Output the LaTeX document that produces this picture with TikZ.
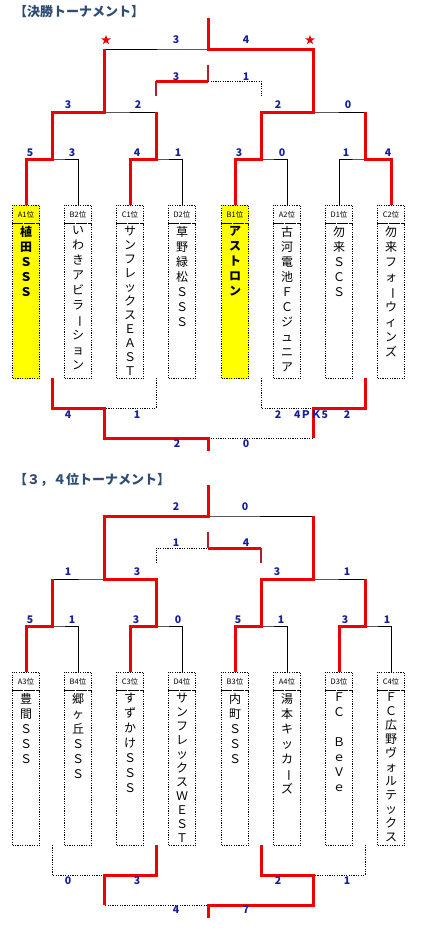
\documentclass[tikz,border=0pt]{standalone}
\usepackage{fontspec}
\setmainfont{Noto Sans CJK JP}
\usetikzlibrary{positioning,shapes.geometric}
\definecolor{myred}{HTML}{EE0000}
\definecolor{mydarkred}{HTML}{B0202C}
\definecolor{myblue}{HTML}{14209C}
\definecolor{mytitle}{HTML}{2F4D74}
\definecolor{myyellow}{HTML}{FFFF00}
\newcommand{\tate}[2][15pt]{\parbox[t][150pt][t]{24pt}{\centering\fontsize{12}{#1}\selectfont #2}}
\newcommand{\chon}{\rotatebox[origin=c]{-90}{ー}}
\tikzset{
  posbox/.style={draw, dash pattern=on 1.2pt off 1.2pt, minimum width=27pt, minimum height=18pt,
                 inner sep=0pt, anchor=north, font=\fontsize{7.5}{8}\selectfont},
  namebox/.style={draw, dash pattern=on 1.2pt off 1.2pt, minimum width=27pt, minimum height=155pt,
                  inner sep=0pt, anchor=north},
  winbox/.style={fill=myyellow},
  thinline/.style={line width=1pt},
  dotline/.style={line width=1pt, dash pattern=on 1.2pt off 1.2pt},
  redline/.style={line width=3pt, myred},
  dredline/.style={line width=2.4pt, mydarkred},
  score/.style={font=\fontsize{10.5}{11}\selectfont\bfseries, text=myblue, inner sep=0pt},
  heading/.style={font=\fontsize{13}{14}\selectfont\bfseries, text=mytitle, anchor=west, inner sep=0pt},
  winstar/.style={star, star points=5, star point ratio=2.4, fill=myred, inner sep=0pt, minimum size=10pt},
}

\begin{document}
\begin{tikzpicture}[x=1pt, y=-1pt]
    \useasboundingbox (0,0) rectangle (430,935);

    % 決勝トーナメント
    \node[heading] (ftitle) at (14,12) {【決勝トーナメント】};

    \node[posbox, winbox] (f1) at (26,205) {A1位};
    \node[namebox, winbox, below=0pt of f1] (f1n) {\tate{\bfseries 植\\田\\Ｓ\\Ｓ\\Ｓ}};
    \node[posbox] (f2) at (78,205) {B2位};
    \node[namebox, below=0pt of f2] (f2n) {\tate{い\\わ\\き\\ア\\ビ\\ラ\\\chon\\シ\\ョ\\ン}};
    \node[posbox] (f3) at (130,205) {C1位};
    \node[namebox, below=0pt of f3] (f3n) {\tate[14pt]{サ\\ン\\フ\\レ\\ッ\\ク\\ス\\Ｅ\\Ａ\\Ｓ\\Ｔ}};
    \node[posbox] (f4) at (182,205) {D2位};
    \node[namebox, below=0pt of f4] (f4n) {\tate{草\\野\\緑\\松\\Ｓ\\Ｓ\\Ｓ}};
    \node[posbox, winbox] (f5) at (235,205) {B1位};
    \node[namebox, winbox, below=0pt of f5] (f5n) {\tate{\bfseries ア\\ス\\ト\\ロ\\ン}};
    \node[posbox] (f6) at (287,205) {A2位};
    \node[namebox, below=0pt of f6] (f6n) {\tate{古\\河\\電\\池\\Ｆ\\Ｃ\\ジ\\ュ\\ニ\\ア}};
    \node[posbox] (f7) at (339,205) {D1位};
    \node[namebox, below=0pt of f7] (f7n) {\tate{勿\\来\\Ｓ\\Ｃ\\Ｓ}};
    \node[posbox] (f8) at (391,205) {C2位};
    \node[namebox, below=0pt of f8] (f8n) {\tate{勿\\来\\フ\\ォ\\\chon\\ウ\\ィ\\ン\\ズ}};

    \coordinate (fj1) at (52,159);
    \coordinate (fj2) at (156,159);
    \coordinate (fj3) at (261,159);
    \coordinate (fj4) at (365,159);
    \coordinate (fk1) at (104,112);
    \coordinate (fk2) at (313,112);
    \coordinate (fm) at (208,49);
    \coordinate (ftop) at (208,18);

    \draw[thinline] (f1.north) |- (fj1) -| (f2.north);
    \draw[thinline] (f3.north) |- (fj2) -| (f4.north);
    \draw[thinline] (f5.north) |- (fj3) -| (f6.north);
    \draw[thinline] (f7.north) |- (fj4) -| (f8.north);
    \draw[thinline] (fj1) |- (fk1) -| (fj2);
    \draw[thinline] (fj3) |- (fk2) -| (fj4);
    \draw[thinline] (fk1) |- (fm) -| (fk2);
    \draw[redline] (f1.north) |- (fj1) |- (fk1) -- (fk1 |- fm);
    \draw[redline] (f3.north) |- (fj2) -- (fj2 |- fk1);
    \draw[redline] (f5.north) |- (fj3) |- (fk2) |- (fm) -- (ftop);
    \draw[redline] (f8.north) |- (fj4) -- (fj4 |- fk2);
    \node[winstar] (fstar1) at (106,40) {};
    \node[winstar] (fstar2) at (310,40) {};

    \coordinate (fmc) at (208,81);
    \coordinate (fmt) at (208,65);
    \coordinate (fml) at (156,96);
    \coordinate (fmr) at (261,96);
    \draw[dotline] (fml) |- (fmc) -| (fmr);
    \draw[redline] (fml |- fmc) -- (fmc);
    \draw[dredline] (fml) -- (fml |- fmc);
    \draw[dredline] (fmt) -- (fmc);

    \coordinate (fb1) at (52,378);
    \coordinate (fb2) at (156,378);
    \coordinate (fb3) at (261,378);
    \coordinate (fb4) at (365,378);
    \coordinate (fp1) at (104,408);
    \coordinate (fp2) at (313,408);
    \coordinate (fq) at (208,438);
    \coordinate (fqe) at (208,451);
    \draw[dotline] (fb1) |- (fp1) -| (fb2);
    \draw[dotline] (fb3) |- (fp2) -| (fb4);
    \draw[dotline] (fp1) |- (fq) -| (fp2);
    \draw[redline] (fb1) |- (fp1) |- (fq) -- (fqe);
    \draw[redline] (fb4) |- (fp2) -- (fp2 |- fq);

    \node[score] (fs1) at (30,153) {5};
    \node[score] (fs2) at (72,153) {3};
    \node[score] (fs3) at (137,153) {4};
    \node[score] (fs4) at (178,153) {1};
    \node[score] (fs5) at (239,153) {3};
    \node[score] (fs6) at (282,153) {0};
    \node[score] (fs7) at (346,153) {1};
    \node[score] (fs8) at (388,153) {4};
    \node[score] (fs9) at (68,105) {3};
    \node[score] (fs10) at (138,105) {2};
    \node[score] (fs11) at (278,105) {2};
    \node[score] (fs12) at (348,105) {0};
    \node[score] (fs13) at (176,40) {3};
    \node[score] (fs14) at (246,40) {4};
    \node[score] (fs15) at (176,77) {3};
    \node[score] (fs16) at (246,77) {1};
    \node[score] (fs17) at (68,415) {4};
    \node[score] (fs18) at (137,415) {1};
    \node[score] (fs19) at (278,415) {2};
    \node[score] (fs20) at (311,415) {4ＰＫ5};
    \node[score] (fs21) at (347,415) {2};
    \node[score] (fs22) at (177,444) {2};
    \node[score] (fs23) at (246,444) {0};

    % 3,4位トーナメント
    \begin{scope}[shift={(0,467)}]
    \node[heading] (stitle) at (14,13) {【３，４位トーナメント】};

    \node[posbox] (s1) at (26,205) {A3位};
    \node[namebox, below=0pt of s1] (s1n) {\tate{豊\\間\\Ｓ\\Ｓ\\Ｓ}};
    \node[posbox] (s2) at (78,205) {B4位};
    \node[namebox, below=0pt of s2] (s2n) {\tate{郷\\ヶ\\丘\\Ｓ\\Ｓ\\Ｓ}};
    \node[posbox] (s3) at (130,205) {C3位};
    \node[namebox, below=0pt of s3] (s3n) {\tate{す\\ず\\か\\け\\Ｓ\\Ｓ\\Ｓ}};
    \node[posbox] (s4) at (182,205) {D4位};
    \node[namebox, below=0pt of s4] (s4n) {\tate[14pt]{サ\\ン\\フ\\レ\\ッ\\ク\\ス\\Ｗ\\Ｅ\\Ｓ\\Ｔ}};
    \node[posbox] (s5) at (235,205) {B3位};
    \node[namebox, below=0pt of s5] (s5n) {\tate{内\\町\\Ｓ\\Ｓ\\Ｓ}};
    \node[posbox] (s6) at (287,205) {A4位};
    \node[namebox, below=0pt of s6] (s6n) {\tate{湯\\本\\キ\\ッ\\カ\\\chon\\ズ}};
    \node[posbox] (s7) at (339,205) {D3位};
    \node[namebox, below=0pt of s7] (s7n) {\tate{Ｆ\\Ｃ\\　\\Ｂ\\ｅ\\Ｖ\\ｅ}};
    \node[posbox] (s8) at (391,205) {C4位};
    \node[namebox, below=0pt of s8] (s8n) {\tate[14pt]{Ｆ\\Ｃ\\広\\野\\ヴ\\ォ\\ル\\テ\\ッ\\ク\\ス}};

    \coordinate (sj1) at (52,159);
    \coordinate (sj2) at (156,159);
    \coordinate (sj3) at (261,159);
    \coordinate (sj4) at (365,159);
    \coordinate (sk1) at (104,112);
    \coordinate (sk2) at (313,112);
    \coordinate (sm) at (208,49);
    \coordinate (stop) at (208,18);

    \draw[thinline] (s1.north) |- (sj1) -| (s2.north);
    \draw[thinline] (s3.north) |- (sj2) -| (s4.north);
    \draw[thinline] (s5.north) |- (sj3) -| (s6.north);
    \draw[thinline] (s7.north) |- (sj4) -| (s8.north);
    \draw[thinline] (sj1) |- (sk1) -| (sj2);
    \draw[thinline] (sj3) |- (sk2) -| (sj4);
    \draw[thinline] (sk1) |- (sm) -| (sk2);
    \draw[redline] (s1.north) |- (sj1) -- (sj1 |- sk1);
    \draw[redline] (s3.north) |- (sj2) |- (sk1) |- (sm) -- (stop);
    \draw[redline] (s5.north) |- (sj3) |- (sk2) -- (sk2 |- sm);
    \draw[redline] (s7.north) |- (sj4) -- (sj4 |- sk2);

    \coordinate (smc) at (208,81);
    \coordinate (smt) at (208,65);
    \coordinate (sml) at (156,96);
    \coordinate (smr) at (261,96);
    \draw[dotline] (sml) |- (smc) -| (smr);
    \draw[redline] (smc) -- (smr |- smc);
    \draw[dredline] (smr |- smc) -- (smr);
    \draw[dredline] (smt) -- (smc);

    \coordinate (sb1) at (52,378);
    \coordinate (sb2) at (156,378);
    \coordinate (sb3) at (261,378);
    \coordinate (sb4) at (365,378);
    \coordinate (sp1) at (104,408);
    \coordinate (sp2) at (313,408);
    \coordinate (sq) at (208,438);
    \coordinate (sqe) at (208,451);
    \draw[dotline] (sb1) |- (sp1) -| (sb2);
    \draw[dotline] (sb3) |- (sp2) -| (sb4);
    \draw[dotline] (sp1) |- (sq) -| (sp2);
    \draw[redline] (sb2) |- (sp1) -- (sp1 |- sq);
    \draw[redline] (sb3) |- (sp2) |- (sq) -- (sqe);

    \node[score] (ss1) at (30,153) {5};
    \node[score] (ss2) at (72,153) {1};
    \node[score] (ss3) at (136,153) {3};
    \node[score] (ss4) at (178,153) {0};
    \node[score] (ss5) at (238,153) {5};
    \node[score] (ss6) at (281,153) {1};
    \node[score] (ss7) at (345,153) {3};
    \node[score] (ss8) at (387,153) {1};
    \node[score] (ss9) at (68,105) {1};
    \node[score] (ss10) at (137,105) {3};
    \node[score] (ss11) at (277,105) {3};
    \node[score] (ss12) at (347,105) {1};
    \node[score] (ss13) at (176,40) {2};
    \node[score] (ss14) at (245,40) {0};
    \node[score] (ss15) at (176,76) {1};
    \node[score] (ss16) at (246,76) {4};
    \node[score] (ss17) at (68,414) {0};
    \node[score] (ss18) at (137,414) {3};
    \node[score] (ss19) at (278,414) {2};
    \node[score] (ss20) at (347,414) {1};
    \node[score] (ss21) at (176,443) {4};
    \node[score] (ss22) at (246,443) {7};
    \end{scope}
\end{tikzpicture}
\end{document}
